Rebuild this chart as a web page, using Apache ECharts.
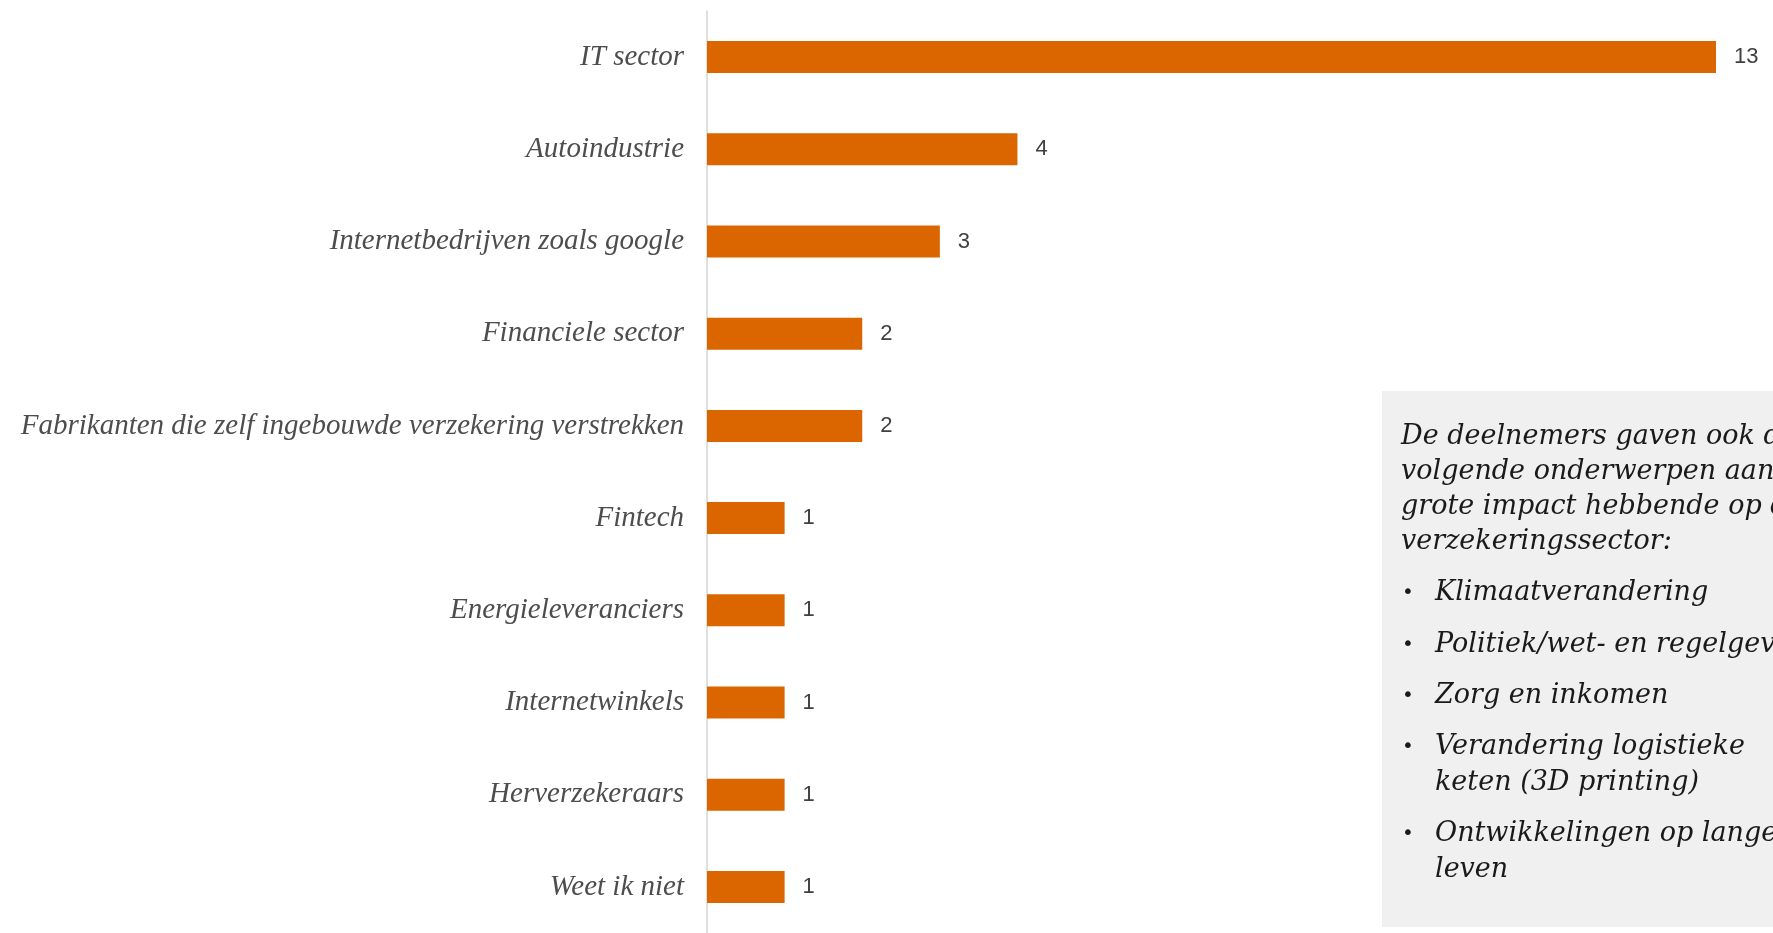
<!DOCTYPE html>
<html>
<head>
<meta charset="utf-8">
<script src="https://cdn.jsdelivr.net/npm/echarts@6/dist/echarts.min.js"></script>
<style>
  html, body { margin: 0; padding: 0; background: #fff; }
  #chart { width: 1773px; height: 933px; }
</style>
</head>
<body>
<div id="chart"></div>
<script>
const categories = [
  'IT sector',
  'Autoindustrie',
  'Internetbedrijven zoals google',
  'Financiele sector',
  'Fabrikanten die zelf ingebouwde verzekering verstrekken',
  'Fintech',
  'Energieleveranciers',
  'Internetwinkels',
  'Herverzekeraars',
  'Weet ik niet'
]
const counts = [13, 4, 3, 2, 2, 1, 1, 1, 1, 1]

const noteIntro = [
  'De deelnemers gaven ook de',
  'volgende onderwerpen aan als',
  'grote impact hebbende op de',
  'verzekeringssector:'
]
const noteBullets = [
  ['Klimaatverandering'],
  ['Politiek/wet- en regelgeving'],
  ['Zorg en inkomen'],
  ['Verandering logistieke', 'keten (3D printing)'],
  ['Ontwikkelingen op langer', 'leven']
]

const chart = echarts.init(document.getElementById('chart'))

// grey side note, partly cut off by the right edge like the original
const noteFont = 'italic 27px "DejaVu Serif", Georgia, serif'
const noteColor = '#1a1a1a'
const graphics = [{
  type: 'rect',
  shape: { x: 1382, y: 391, width: 420, height: 536 },
  style: { fill: '#f0f0f0' },
  z: 0
}]
noteIntro.forEach((line, i) => {
  graphics.push({
    type: 'text', x: 1401, y: 437 + i * 35,
    style: { text: line, font: noteFont, fill: noteColor, textVerticalAlign: 'middle' },
    z: 1
  })
})
const bulletTops = [593, 645, 696, 747, 834]
noteBullets.forEach((lines, i) => {
  graphics.push({
    type: 'text', x: 1402, y: bulletTops[i],
    style: { text: '•', font: '20px "DejaVu Sans", sans-serif', fill: noteColor, textVerticalAlign: 'middle' },
    z: 1
  })
  lines.forEach((line, j) => {
    graphics.push({
      type: 'text', x: 1435, y: bulletTops[i] + j * 36,
      style: { text: line, font: noteFont, fill: noteColor, textVerticalAlign: 'middle' },
      z: 1
    })
  })
})

const option = {
  backgroundColor: '#ffffff',
  animation: false,
  grid: {
    left: 707,
    right: 57,
    top: 11,
    bottom: 0
  },
  xAxis: {
    type: 'value',
    min: 0,
    max: 13,
    show: false
  },
  yAxis: {
    type: 'category',
    inverse: true,
    data: categories,
    axisLine: {
      lineStyle: { color: '#d4d4d4', width: 1.5 }
    },
    axisTick: {
      length: 7,
      lineStyle: { color: '#d4d4d4', width: 1.5 }
    },
    axisLabel: {
      margin: 23,
      color: '#4d4d4d',
      fontFamily: '"Liberation Serif", "Times New Roman", serif',
      fontStyle: 'italic',
      fontSize: 29
    }
  },
  series: [{
    type: 'bar',
    data: counts,
    barWidth: 32,
    itemStyle: { color: '#db6600' },
    label: {
      show: true,
      position: 'right',
      distance: 18,
      color: '#404040',
      fontFamily: '"Liberation Sans", Arial, sans-serif',
      fontSize: 22
    }
  }],
  graphic: graphics
}

chart.setOption(option)
</script>
</body>
</html>
